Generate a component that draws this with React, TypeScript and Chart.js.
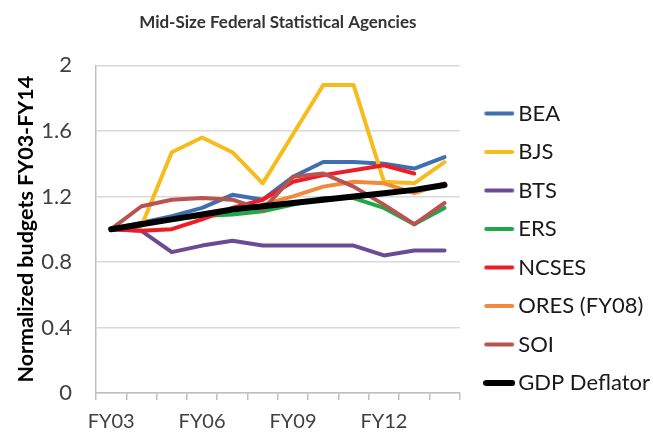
import React, { useEffect, useRef } from "react";
import { Chart, registerables } from "chart.js";

Chart.register(...registerables);

const categories = ["FY03", "FY04", "FY05", "FY06", "FY07", "FY08", "FY09", "FY10", "FY11", "FY12", "FY13", "FY14"];
const shownLabels = ["FY03", "FY06", "FY09", "FY12"];
const yTicks = [0, 0.4, 0.8, 1.2, 1.6, 2];

const bea = [1.0, 1.04, 1.08, 1.13, 1.21, 1.18, 1.32, 1.41, 1.41, 1.40, 1.37, 1.44];
const bjs = [1.0, 1.02, 1.47, 1.56, 1.47, 1.28, 1.58, 1.88, 1.88, 1.29, 1.28, 1.41];
const bts = [1.0, 0.99, 0.86, 0.90, 0.93, 0.90, 0.90, 0.90, 0.90, 0.84, 0.87, 0.87];
const ers = [1.0, 1.03, 1.06, 1.08, 1.09, 1.11, 1.15, 1.19, 1.19, 1.13, 1.03, 1.13];
const ncses = [1.0, 0.99, 1.0, 1.06, 1.13, 1.18, 1.29, 1.33, 1.36, 1.39, 1.34, null];
const ores = [null, null, null, null, null, 1.15, 1.20, 1.26, 1.29, 1.28, 1.22, 1.28];
const soi = [1.0, 1.14, 1.18, 1.19, 1.18, 1.12, 1.32, 1.34, 1.26, 1.15, 1.03, 1.16];
const gdp = [1.0, 1.03, 1.06, 1.09, 1.12, 1.14, 1.16, 1.18, 1.20, 1.22, 1.24, 1.27];

const seriesNames = ["BEA", "BJS", "BTS", "ERS", "NCSES", "ORES (FY08)", "SOI", "GDP Deflator"];
const seriesData = [bea, bjs, bts, ers, ncses, ores, soi, gdp];
const seriesColors = ["#3F6FAF", "#F7BC1C", "#6A4C93", "#1FA84A", "#EE1C25", "#F08A3C", "#B85450", "#000000"];
const seriesWidths = [4, 4, 4, 4, 4, 4, 4, 6];

const FONT = "Lato, 'Open Sans', sans-serif";

function makeLegendLine(color: string, width: number): HTMLCanvasElement {
  const c = document.createElement("canvas");
  c.width = 32;
  c.height = 8;
  const ctx = c.getContext("2d");
  if (ctx) {
    ctx.strokeStyle = color;
    ctx.lineWidth = Math.min(width, 6);
    ctx.lineCap = "round";
    ctx.beginPath();
    ctx.moveTo(3, 4);
    ctx.lineTo(29, 4);
    ctx.stroke();
  }
  return c;
}

export default function App() {
  const ref = useRef<HTMLCanvasElement | null>(null);
  useEffect(() => {
    if (!ref.current) return;
    const legendImgs = seriesColors.map((c, i) => makeLegendLine(c, seriesWidths[i]));
    const chart = new Chart(ref.current, {
      type: "line",
      data: {
        labels: categories,
        datasets: seriesNames.map((name, i) => ({
          label: name,
          data: seriesData[i],
          borderColor: seriesColors[i],
          backgroundColor: seriesColors[i],
          borderWidth: seriesWidths[i],
          pointRadius: 0,
          tension: 0,
          fill: false,
          order: seriesNames.length - i,
          borderCapStyle: "round",
          borderJoinStyle: "round",
        })),
      },
      options: {
        animation: false,
        responsive: false,
        layout: { padding: { left: 0, right: -7, top: 0, bottom: 0 } },
        plugins: {
          tooltip: { enabled: false },
          title: {
            display: true,
            text: "Mid-Size Federal Statistical Agencies",
            fullSize: false,
            color: "#333333",
            font: { family: FONT, size: 17, weight: "bold", lineHeight: 1.2 },
            padding: { top: 12, bottom: 33 },
          },
          legend: {
            position: "right",
            align: "start",
            fullSize: true,
            maxWidth: 220,
            title: { display: true, text: " ", font: { size: 10, lineHeight: 1 }, padding: { top: 0, bottom: 76 } },
            labels: {
              color: "#1a1a1a",
              font: { family: FONT, size: 22 },
              usePointStyle: true,
              pointStyleWidth: 16,
              boxHeight: 22,
              padding: 16.5,
              sort: (a: any, b: any) => a.datasetIndex - b.datasetIndex,
              generateLabels: (ch: any) =>
                Chart.defaults.plugins.legend.labels.generateLabels(ch).map((item: any) => ({
                  ...item,
                  pointStyle: legendImgs[item.datasetIndex],
                })),
            },
          },
        },
        scales: {
          x: {
            type: "category",
            offset: true,
            grid: { display: true, drawOnChartArea: false, offset: true, drawTicks: true, tickLength: 7, color: "#BFBFBF", lineWidth: 1.5 },
            border: { display: true, color: "#BFBFBF", width: 1.5 },
            ticks: {
              autoSkip: false,
              maxRotation: 0,
              color: "#404040",
              font: { family: FONT, size: 20 },
              padding: 10,
              callback: (v: any, i: number) => (shownLabels.includes(categories[i]) ? categories[i] : ""),
            },
            afterFit: (s: any) => { s.height = 44; },
          },
          y: {
            min: 0,
            max: 2,
            afterBuildTicks: (s: any) => { s.ticks = yTicks.map((v) => ({ value: v })); },
            grid: { color: "#D9D9D9", lineWidth: 1.5, drawTicks: false },
            border: { display: true, color: "#BFBFBF", width: 1.5 },
            ticks: {
              color: "#404040",
              font: { family: FONT, size: 22 },
              padding: 24,
              callback: (v: any) => String(Number(v)),
            },
            title: {
              display: true,
              text: "Normalized budgets FY03-FY14",
              color: "#000000",
              font: { family: FONT, size: 21.5, weight: "bold" },
              padding: { top: 13, bottom: 0 },
            },
            afterFit: (s: any) => { s.width = 96; },
          },
          yr: {
            position: "right",
            display: true,
            grid: { display: false },
            border: { display: false },
            ticks: { display: false },
            afterFit: (s: any) => { s.width = 15; },
          },
        },
      },
    });
    return () => chart.destroy();
  }, []);
  return (
    <div style={{ position: "fixed", left: 0, top: 0, width: 653, height: 437, background: "#fff" }}>
      <canvas ref={ref} width={653} height={437} style={{ width: 653, height: 437 }} />
    </div>
  );
}
